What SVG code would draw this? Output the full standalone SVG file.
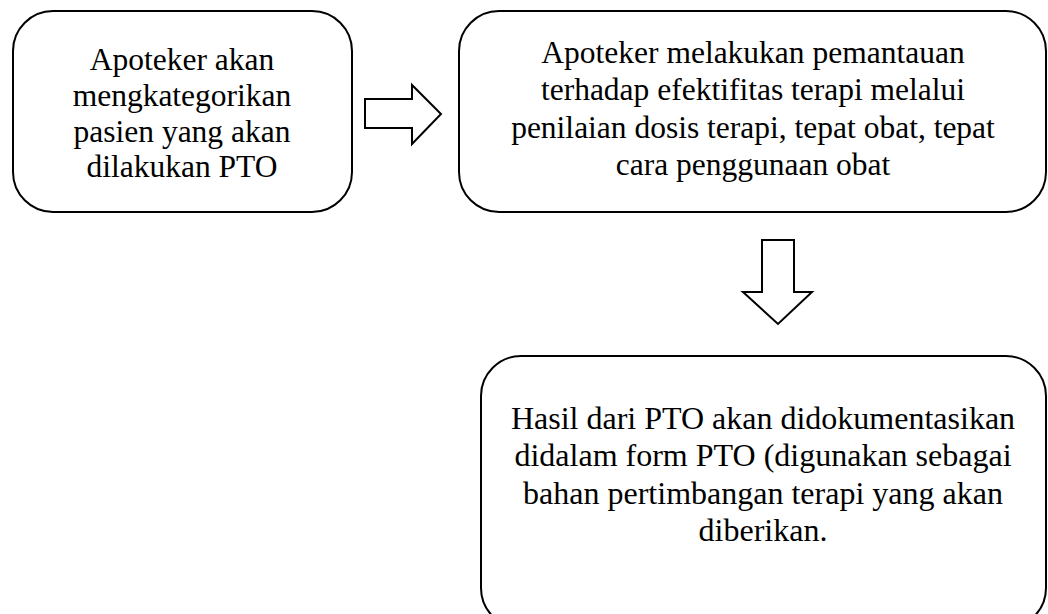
<svg xmlns="http://www.w3.org/2000/svg" width="1048" height="614" viewBox="0 0 1048 614">
<style>
.box{fill:#fff;stroke:#000;stroke-width:2}
.arr{fill:#fff;stroke:#000;stroke-width:2;stroke-linejoin:miter}
text{font-family:"Liberation Serif","Times New Roman",serif;font-size:31.5px;fill:#000;text-anchor:middle}
.big{font-size:32px}
</style>
<rect width="1048" height="614" fill="#fff"/>
<g id="node1">
<rect class="box" x="13" y="11" width="339" height="201" rx="40" ry="40"/>
<text x="182" y="70">Apoteker akan</text>
<text x="182" y="106">mengkategorikan</text>
<text x="182" y="142">pasien yang akan</text>
<text x="182" y="177">dilakukan PTO</text>
</g>
<g id="node2">
<rect class="box" x="459" y="11" width="587" height="201" rx="40" ry="40"/>
<text x="753" y="63">Apoteker melakukan pemantauan</text>
<text x="753" y="100">terhadap efektifitas terapi melalui</text>
<text x="753" y="138">penilaian dosis terapi, tepat obat, tepat</text>
<text x="753" y="175">cara penggunaan obat</text>
</g>
<g id="node3">
<rect class="box" x="481" y="356" width="565" height="272" rx="40" ry="40"/>
<text class="big" x="763" y="429">Hasil dari PTO akan didokumentasikan</text>
<text class="big" x="763" y="466">didalam form PTO (digunakan sebagai</text>
<text class="big" x="763" y="504">bahan pertimbangan terapi yang akan</text>
<text class="big" x="763" y="541">diberikan.</text>
</g>
<g id="connectors">
<polygon class="arr" points="365,99 412,99 412,85 441,114 412,144 412,128 365,128"/>
<polygon class="arr" points="762,240 794,240 794,292 812,292 778,324 743,292 762,292"/>
</g>
</svg>
